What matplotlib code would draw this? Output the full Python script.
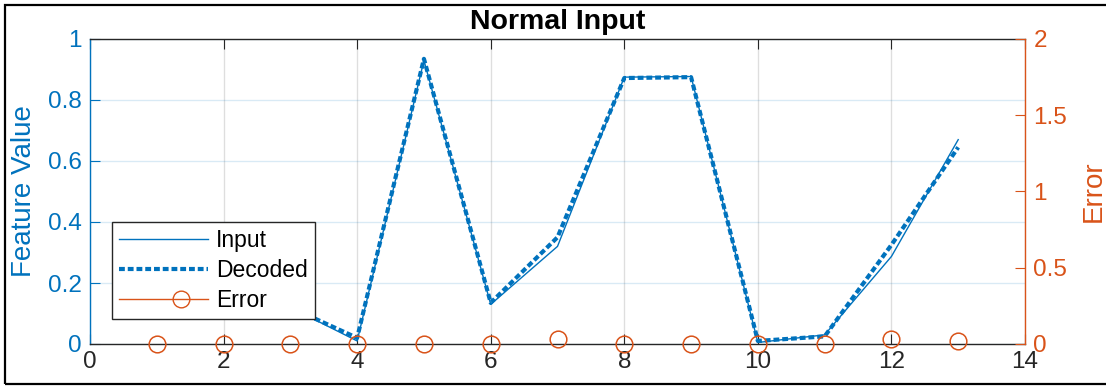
import matplotlib
matplotlib.use("Agg")
import matplotlib.pyplot as plt
from matplotlib.lines import Line2D
from matplotlib.patches import Rectangle
from matplotlib.ticker import FuncFormatter
from matplotlib.legend_handler import HandlerLine2D

plt.rcParams['font.family'] = ['Liberation Sans', 'DejaVu Sans']

# Feature samples
sample_idx = [1, 2, 3, 4, 5, 6, 7, 8, 9, 10, 11, 12, 13]
input_vals = [0.22, 0.35, 0.12, 0.01, 0.93, 0.13, 0.32, 0.875, 0.877, 0.005, 0.03, 0.287, 0.67]
decoded_vals = [0.22, 0.35, 0.12, 0.02, 0.935, 0.135, 0.35, 0.872, 0.875, 0.01, 0.025, 0.325, 0.645]
error_vals = [0.0, 0.0, 0.0, 0.0, 0.0, 0.0, 0.03, 0.0, 0.0, 0.0, 0.0, 0.03, 0.02]

left_ticks = [0, 0.2, 0.4, 0.6, 0.8, 1]
right_ticks = [0, 0.5, 1, 1.5, 2]
x_ticks = [0, 2, 4, 6, 8, 10, 12, 14]

BLUE = '#0072BD'
ORANGE = '#D95319'
DARK = '#262626'
FS = 17.5
MS = 12


class OffsetMarkerHandler(HandlerLine2D):
    """Legend handle whose single marker sits toward the right end of the line."""

    def __init__(self, frac=0.68, **kw):
        super().__init__(**kw)
        self.frac = frac

    def create_artists(self, legend, orig_handle, xdescent, ydescent,
                       width, height, fontsize, trans):
        artists = super().create_artists(legend, orig_handle, xdescent, ydescent,
                                         width, height, fontsize, trans)
        for a in artists:
            xd = list(a.get_xdata())
            if len(xd) == 3:
                a.set_xdata([xd[0], xd[0] + (xd[-1] - xd[0]) * self.frac, xd[-1]])
            elif len(xd) == 1:
                a.set_xdata([-xdescent + width * self.frac])
        return artists


fig = plt.figure(figsize=(11.06, 3.86), dpi=100)
ax = fig.add_axes([90 / 1106, 1 - 344 / 386, (1025 - 90) / 1106, (344 - 39) / 386])
ax2 = ax.twinx()

# left axis: feature values
ax.plot(sample_idx, input_vals, color=BLUE, lw=1.0, label='Input', zorder=3)
ax.plot(sample_idx, decoded_vals, color=BLUE, lw=3.0, linestyle=(0, (1.4, 0.7)),
        dash_capstyle='butt', label='Decoded', zorder=4)
ax.set_xlim(0, 14)
ax.set_ylim(0, 1)
ax.set_xticks(x_ticks)
ax.set_yticks(left_ticks)
fmt = FuncFormatter(lambda v, p: f'{v:g}')
ax.yaxis.set_major_formatter(fmt)
ax.set_ylabel('Feature Value', color=BLUE, fontsize=20, labelpad=8)
ax.set_title('Normal Input', fontsize=20.5, fontweight='bold', pad=7, color='black')

ax.set_axisbelow(True)
ax.xaxis.grid(True, color=DARK, alpha=0.15, lw=1)
ax.yaxis.grid(True, color=BLUE, alpha=0.15, lw=1)

ax.tick_params(axis='x', direction='in', length=7, top=True, labeltop=False,
               colors=DARK, labelsize=FS, pad=5)
ax.tick_params(axis='y', direction='in', length=7, colors=BLUE, labelsize=FS, pad=6)
ax.spines['left'].set_color(BLUE)
ax.spines['bottom'].set_color(DARK)
ax.spines['top'].set_color(DARK)
ax.spines['right'].set_visible(False)
for s in ax.spines.values():
    s.set_linewidth(1.0)

# right axis: reconstruction error
ax2.plot(sample_idx, error_vals, linestyle='none', marker='o', ms=MS,
         mfc='none', mec=ORANGE, mew=1.1, clip_on=False, zorder=5)
ax2.set_ylim(0, 2)
ax2.set_yticks(right_ticks)
ax2.yaxis.set_major_formatter(fmt)
ax2.set_ylabel('Error', color=ORANGE, fontsize=20, labelpad=10)
ax2.tick_params(axis='y', direction='in', length=7, colors=ORANGE, labelsize=FS, pad=6)
ax2.spines['right'].set_color(ORANGE)
ax2.spines['right'].set_linewidth(1.0)
for k in ('left', 'top', 'bottom'):
    ax2.spines[k].set_visible(False)

handles = [
    Line2D([], [], color=BLUE, lw=1.0),
    Line2D([], [], color=BLUE, lw=3.0, linestyle=(0, (1.4, 0.7)), dash_capstyle='butt'),
    Line2D([], [], color=ORANGE, lw=1.0, marker='o', ms=MS, mfc='none', mec=ORANGE),
]
leg = ax2.legend(handles, ['Input', 'Decoded', 'Error'], loc='lower left',
                 bbox_to_anchor=(0.0235, 0.082), fontsize=16.5, frameon=True,
                 fancybox=False, framealpha=1, edgecolor=DARK, borderpad=0.3,
                 handlelength=3.9, handletextpad=0.35, labelspacing=0.3,
                 borderaxespad=0, numpoints=1,
                 handler_map={handles[2]: OffsetMarkerHandler(frac=0.7)})
leg.get_frame().set_linewidth(1.0)
leg.set_zorder(10)

# outer frame
fig.patches.append(Rectangle((5 / 1106, 2 / 386), 1.2, 379 / 386, transform=fig.transFigure,
                             fill=False, edgecolor='black', lw=1.6))

fig.savefig('out.png', dpi=100)
